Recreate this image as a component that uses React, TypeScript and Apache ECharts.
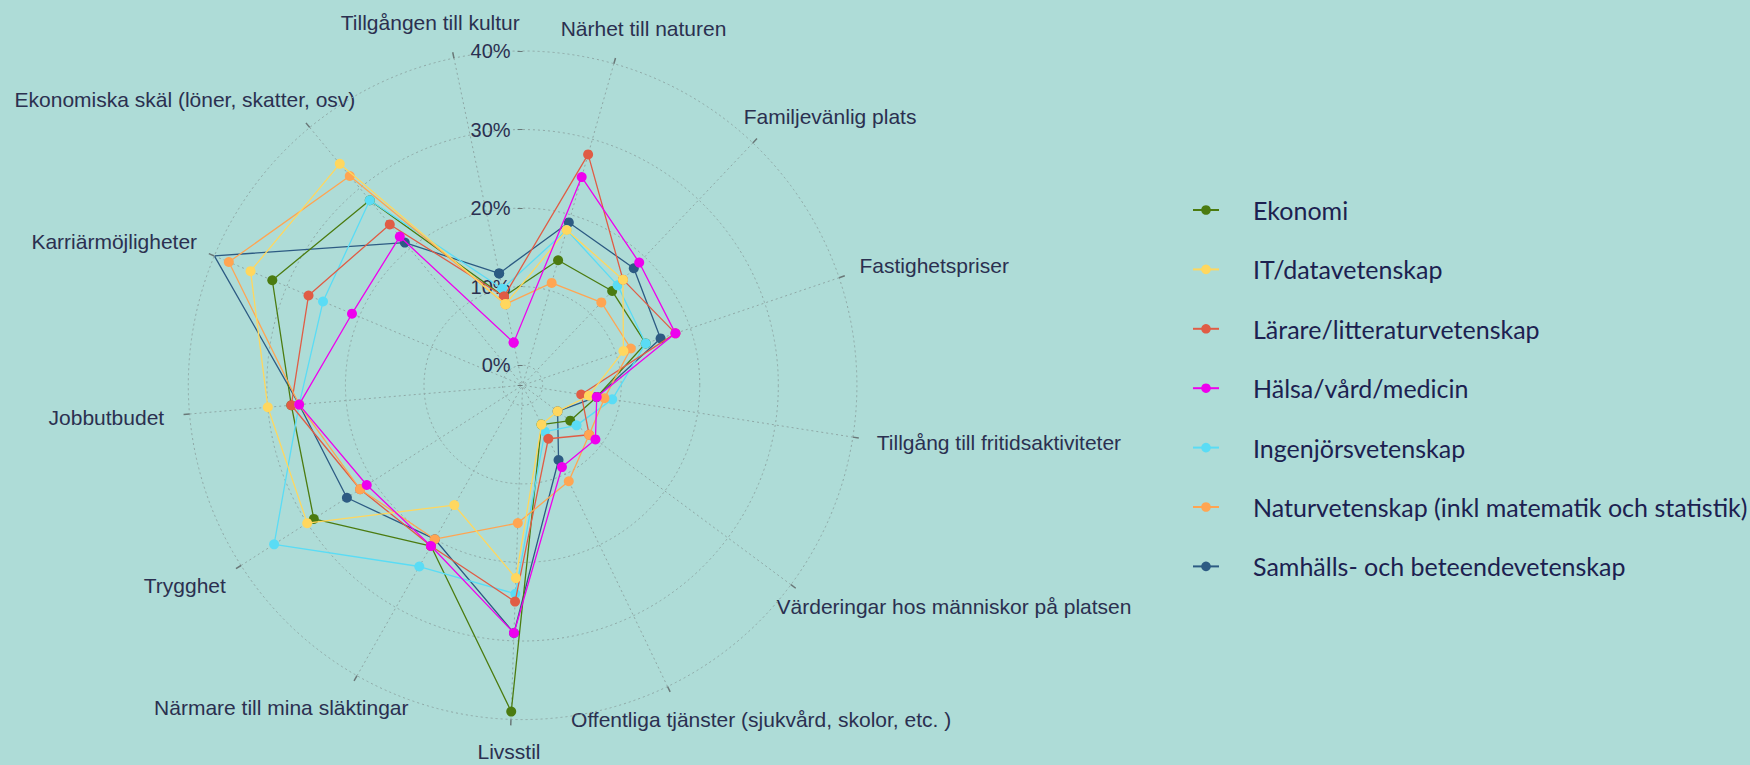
import React, { useEffect, useRef } from 'react';
import * as echarts from 'echarts';

const categories = [
  'Tillgången till kultur',
  'Närhet till naturen',
  'Familjevänlig plats',
  'Fastighetspriser',
  'Tillgång till fritidsaktiviteter',
  'Värderingar hos människor på platsen',
  'Offentliga tjänster (sjukvård, skolor, etc. )',
  'Livsstil',
  'Närmare till mina släktingar',
  'Trygghet',
  'Jobbutbudet',
  'Karriärmöjligheter',
  'Ekonomiska skäl (löner, skatter, osv)',
];

const seriesNames = [
  'Ekonomi',
  'IT/datavetenskap',
  'Lärare/litteraturvetenskap',
  'Hälsa/vård/medicin',
  'Ingenjörsvetenskap',
  'Naturvetenskap (inkl matematik och statistik)',
  'Samhälls- och beteendevetenskap',
];

const ekonomi = [9, 14, 14, 14, 7, 5, 3, 39, 21, 29, 27, 32, 28];
const itData = [8, 18, 16, 11, 6, 3, 3, 22, 15, 30, 30, 35, 34];
const larare = [9, 28, 16, 18, 5, 8, 5, 25, 21, 22, 27, 27, 24];
const halsa = [3, 25, 19, 18, 7, 9, 9, 29, 21, 21, 26, 21, 22];
const ingenjor = [10, 18, 15, 14, 9, 6, 4, 24, 24, 35, 26, 25, 28];
const natur = [8, 11, 12, 12, 8, 8, 11, 15, 20, 22, 26, 38, 32];
const samhalls = [12, 19, 18, 16, 7, 3, 8, 29, 20, 24, 26, 40, 21];

const seriesValues = [ekonomi, itData, larare, halsa, ingenjor, natur, samhalls];
const seriesColors = ['#4b7b10', '#ffd75e', '#e05c45', '#ee00ee', '#5adcf5', '#ffa552', '#2d5b83'];
// stacking order of the series (higher = drawn on top)
const seriesLayer = [2, 6, 4, 7, 3, 5, 1];

const radialMin = -2.55;
const radialMax = 40;

// layout
const W = 1750;
const H = 765;
const CX = 522.6;
const CY = 385.3;
const R = 334.3;
const START_ANGLE = 101.85;
const LABEL_R = 360;
const LABEL_R_Y = 371;
const LABEL_MAX_Y = H - 14;
const BG = '#aedcd7';
const TEXT = '#2b3050';
const GRID = '#8fa8a6';
const FONT = '"Liberation Sans", Arial, sans-serif';

export default function App() {
  const ref = useRef<HTMLDivElement>(null);

  useEffect(() => {
    const chart = echarts.init(ref.current as HTMLDivElement, null, { renderer: 'svg' });
    const n = categories.length;

    const canvas = document.createElement('canvas');
    const ctx = canvas.getContext('2d') as CanvasRenderingContext2D;
    ctx.font = `21px "Liberation Sans"`;

    const labelEls = categories.map((c, i) => {
      const a = ((START_ANGLE - (i * 360) / n) * Math.PI) / 180;
      const w = ctx.measureText(c).width;
      return {
        type: 'text',
        silent: true,
        x: CX + Math.cos(a) * (LABEL_R + w / 2),
        y: Math.min(CY - Math.sin(a) * LABEL_R_Y, LABEL_MAX_Y),
        style: {
          text: c,
          fontSize: 21,
          fontFamily: FONT,
          fill: TEXT,
          align: 'center',
          verticalAlign: 'middle',
          textAlign: 'center',
          textVerticalAlign: 'middle',
        },
      };
    });

    const series = seriesValues.map((vals, si) => {
      const data = vals.map((v, i) => [v, i]);
      data.push([vals[0], n]);
      return {
        name: seriesNames[si],
        type: 'line',
        coordinateSystem: 'polar',
        polarIndex: 0,
        data,
        symbol: 'circle',
        symbolSize: 10,
        showSymbol: true,
        color: seriesColors[si],
        lineStyle: { width: 1.3, color: seriesColors[si] },
        itemStyle: { color: seriesColors[si] },
        emphasis: { disabled: true },
        z: 2 + seriesLayer[si],
      };
    });

    chart.setOption({
      animation: false,
      backgroundColor: BG,
      polar: [
        { center: [CX, CY], radius: R },
        { center: [CX, CY], radius: R },
      ],
      angleAxis: [
        {
          polarIndex: 0,
          type: 'value',
          min: 0,
          max: n,
          interval: 1,
          startAngle: START_ANGLE,
          clockwise: true,
          axisLine: { show: false },
          axisTick: { show: true, length: 6, lineStyle: { color: '#6a7878', width: 1.5 } },
          axisLabel: { show: false },
          splitLine: { show: true, lineStyle: { color: GRID, width: 1, type: [2, 3] } },
        },
        {
          polarIndex: 1,
          type: 'value',
          min: 0,
          max: 360,
          startAngle: 90,
          axisLine: { show: false },
          axisTick: { show: false },
          axisLabel: { show: false },
          splitLine: { show: false },
        },
      ],
      radiusAxis: [
        {
          polarIndex: 0,
          type: 'value',
          min: radialMin,
          max: radialMax,
          splitNumber: 4,
          axisLine: { show: false },
          axisTick: { show: false },
          axisLabel: { show: false },
          splitLine: { show: true, lineStyle: { color: GRID, width: 1, type: [2, 3] } },
        },
        {
          polarIndex: 1,
          type: 'value',
          min: radialMin,
          max: radialMax,
          splitNumber: 4,
          axisLine: { show: false },
          axisTick: { show: true, length: 5, lineStyle: { color: '#6a7878', width: 1 } },
          axisLabel: {
            show: true,
            margin: 12,
            fontSize: 20,
            fontFamily: FONT,
            color: TEXT,
            formatter: (v: number) => (v < 0 ? '' : `${Math.round(v)}%`),
          },
          splitLine: { show: false },
        },
      ],
      legend: {
        orient: 'vertical',
        left: 1192,
        top: 195,
        padding: 0,
        itemWidth: 26,
        itemHeight: 12,
        itemGap: 29.4,
        data: seriesNames,
        textStyle: {
          fontFamily: 'Lato, "Open Sans", sans-serif',
          fontSize: 25,
          color: '#1c2150',
          lineHeight: 30,
          padding: [0, 0, 0, 29],
        },
      },
      graphic: labelEls,
      series,
    });

    return () => chart.dispose();
  }, []);

  return (
    <div
      ref={ref}
      style={{ position: 'absolute', left: 0, top: 0, width: W, height: H }}
    />
  );
}
